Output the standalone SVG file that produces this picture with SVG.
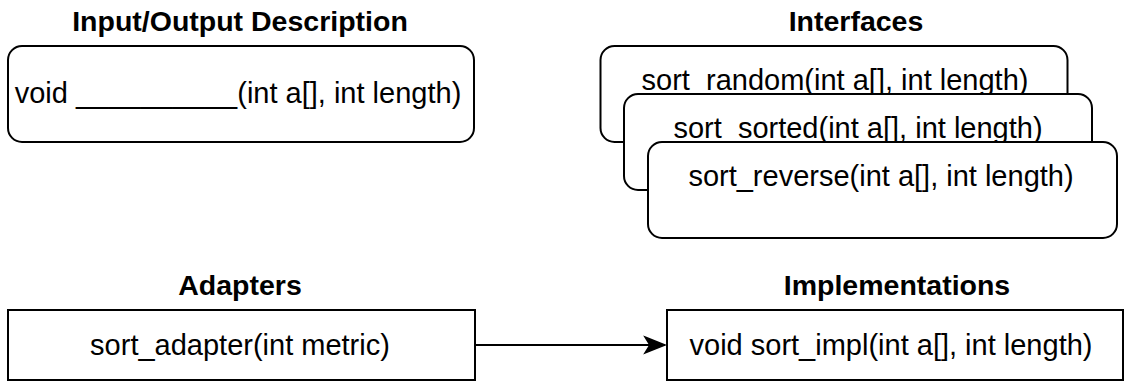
<svg xmlns="http://www.w3.org/2000/svg" width="1130" height="383" viewBox="0 0 1130 383">
<defs>
<style>
.t{font-family:"Liberation Sans",Arial,sans-serif;font-size:29px;fill:#000;text-anchor:middle}
.h{font-family:"Liberation Sans",Arial,sans-serif;font-size:28.5px;font-weight:bold;fill:#000;text-anchor:middle}
.b{fill:#fff;stroke:#000;stroke-width:2}
.c{fill:none;stroke:#000;stroke-width:2}
</style>
<marker id="arr" markerWidth="24" markerHeight="20" viewBox="0 0 24 20" refX="22" refY="10" markerUnits="userSpaceOnUse" orient="auto">
<path d="M2,2 L22,10 L2,18 L7,10 Z" fill="#000" stroke="#000" stroke-width="1.5" stroke-linejoin="miter"/>
</marker>
</defs>
<rect width="1130" height="383" fill="#fff"/>
<g id="title-io"><text class="h" x="240" y="31">Input/Output Description</text></g>
<g id="title-interfaces"><text class="h" x="856" y="31">Interfaces</text></g>
<g id="title-adapters"><text class="h" x="240" y="295">Adapters</text></g>
<g id="title-impl"><text class="h" x="897" y="295">Implementations</text></g>
<g id="io">
<rect class="b" x="8" y="46" width="466" height="96" rx="14"/>
<text class="t" x="238" y="103">void __________(int a[], int length)</text>
</g>
<g id="sort-random">
<rect class="b" x="600.5" y="46" width="467" height="96" rx="14"/>
<text class="t" x="835" y="90">sort_random(int a[], int length)</text>
</g>
<g id="sort-sorted">
<rect class="b" x="624" y="94" width="468" height="96" rx="14"/>
<text class="t" x="858" y="138">sort_sorted(int a[], int length)</text>
</g>
<g id="sort-reverse">
<rect class="b" x="648" y="142" width="469" height="96" rx="14"/>
<text class="t" x="881" y="186">sort_reverse(int a[], int length)</text>
</g>
<g id="adapter">
<rect class="b" x="8" y="310" width="467" height="70"/>
<text class="t" x="240" y="355">sort_adapter(int metric)</text>
</g>
<g id="impl">
<rect class="b" x="667" y="310" width="456" height="70"/>
<text class="t" x="891" y="355">void sort_impl(int a[], int length)</text>
</g>
<g id="connectors">
<path class="c" d="M475,345 L665,345" marker-end="url(#arr)"/>
</g>
</svg>
